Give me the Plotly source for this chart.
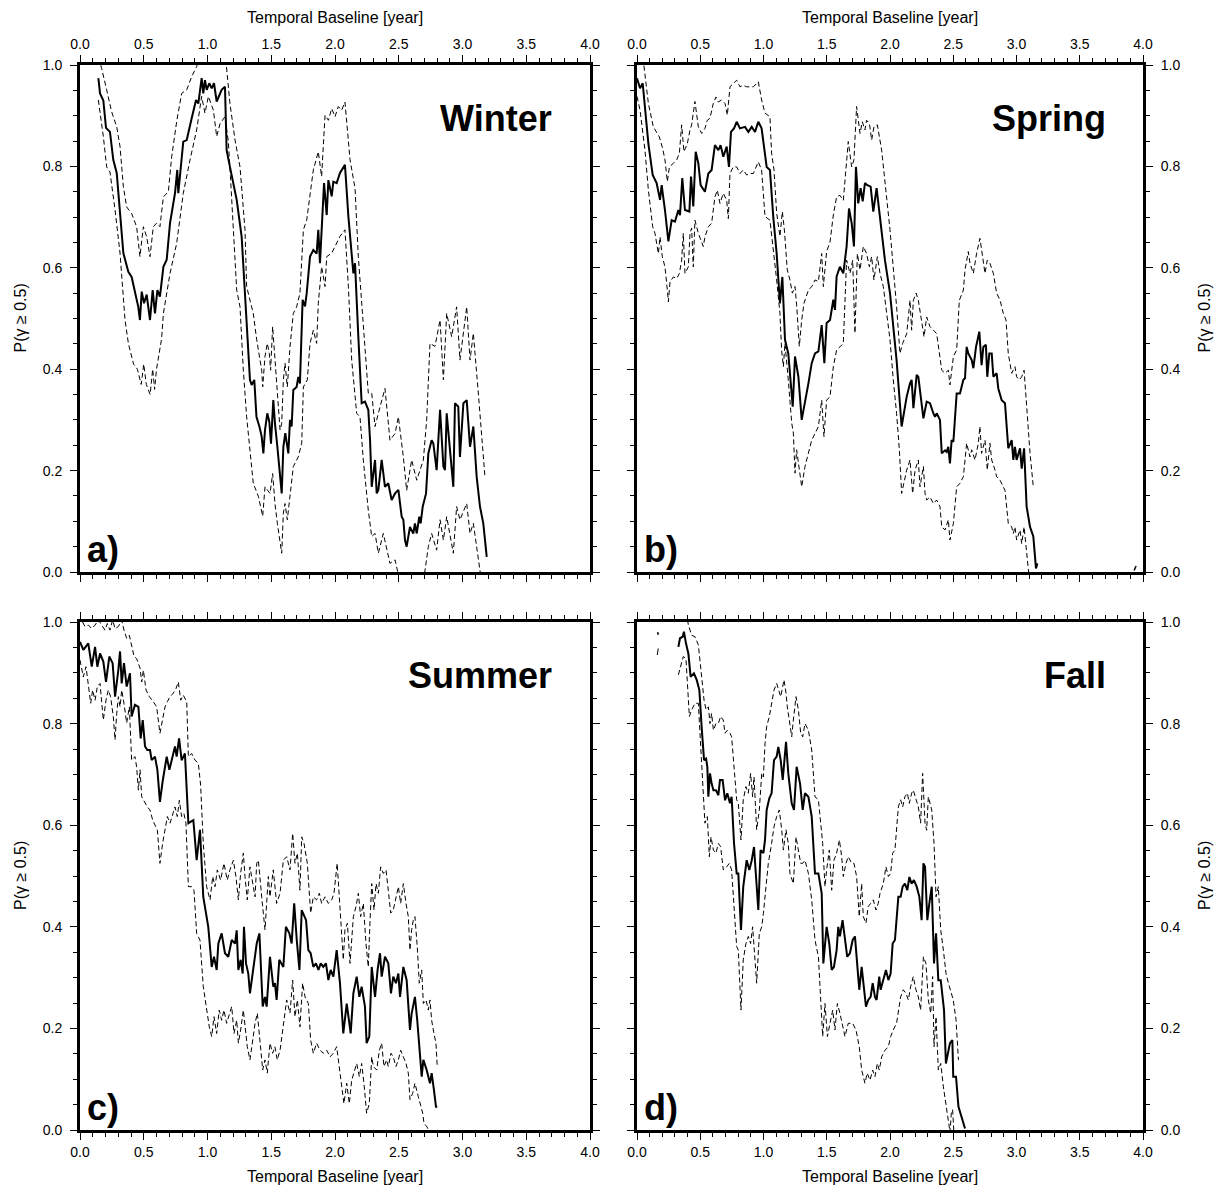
import plotly.graph_objects as go

# ---------------- DATA ----------------
# each series is a list of (temporal baseline [year], P(gamma >= 0.5)) points

winter_mean = [(.144,.974),(.157,.944),(.183,.93),(.204,.876),(.235,.868),(.261,.813),(.288,.787),(.34,.629),
    (.379,.592),(.405,.582),(.457,.523),(.47,.497),(.484,.553),(.502,.530),(.523,.547),(.549,.497),(.570,.556),
    (.588,.510),(.607,.556),(.627,.543),(.654,.602),(.680,.616),(.706,.688),(.745,.747),(.763,.793),(.771,.747),
    (.81,.849),(.837,.852),(.876,.895),(.910,.931),(.928,.924),(.954,.974),(.967,.944),(.98,.970),(.994,.951),
    (1.014,.964),(1.033,.954),(1.051,.964),(1.072,.928),(1.111,.951),(1.137,.957),(1.15,.832),(1.176,.799),
    (1.229,.734),(1.268,.661),(1.287,.576),(1.307,.491),(1.333,.379),(1.346,.369),(1.367,.379),(1.384,.306),
    (1.407,.287),(1.425,.267),(1.438,.234),(1.451,.280),(1.469,.313),(1.485,.296),(1.498,.253),(1.516,.339),
    (1.529,.293),(1.548,.247),(1.569,.194),(1.582,.155),(1.595,.247),(1.610,.274),(1.634,.234),(1.647,.300),
    (1.660,.287),(1.673,.359),(1.699,.365),(1.712,.385),(1.725,.372),(1.746,.537),(1.765,.524),(1.778,.550),
    (1.804,.622),(1.830,.635),(1.856,.628),(1.869,.675),(1.882,.609),(1.914,.767),(1.935,.704),(1.948,.773),
    (1.974,.741),(1.987,.770),(2.013,.767),(2.039,.787),(2.078,.803),(2.105,.701),(2.144,.589),(2.157,.609),
    (2.183,.464),(2.209,.333),(2.235,.336),(2.261,.320),(2.275,.260),(2.288,.168),(2.314,.221),(2.327,.155),
    (2.340,.162),(2.366,.221),(2.392,.168),(2.418,.175),(2.444,.142),(2.471,.155),(2.497,.162),(2.523,.109),
    (2.536,.103),(2.549,.063),(2.562,.050),(2.588,.089),(2.614,.076),(2.627,.096),(2.641,.076),(2.661,.109),
    (2.672,.096),(2.688,.129),(2.714,.155),(2.732,.234),(2.758,.260),(2.771,.254),(2.797,.201),(2.824,.320),
    (2.850,.208),(2.863,.201),(2.876,.313),(2.902,.234),(2.928,.168),(2.941,.333),(2.967,.326),(2.980,.227),
    (3.007,.333),(3.033,.339),(3.059,.247),(3.085,.287),(3.111,.188),(3.137,.129),(3.163,.096),(3.190,.030)]

winter_upper = [(.13,1.03),(.17,.993),(.209,.951),(.248,.908),(.288,.878),(.314,.839),(.340,.760),(.366,.720),
    (.405,.707),(.444,.681),(.470,.622),(.497,.681),(.523,.661),(.549,.622),(.575,.681),(.601,.688),(.627,.681),
    (.654,.740),(.693,.750),(.719,.819),(.758,.888),(.797,.944),(.837,.951),(.876,.977),(.915,.997),(.95,1.03),
    (1.0,1.05),(1.1,1.05),(1.14,1.02),(1.176,.924),(1.216,.852),(1.255,.799),(1.294,.675),(1.307,.563),
    (1.359,.510),(1.386,.458),(1.425,.398),(1.433,.365),(1.451,.425),(1.469,.451),(1.485,.431),(1.495,.398),
    (1.511,.484),(1.529,.425),(1.548,.365),(1.569,.280),(1.582,.293),(1.595,.379),(1.608,.412),(1.626,.365),
    (1.647,.444),(1.673,.510),(1.699,.523),(1.725,.550),(1.752,.675),(1.778,.694),(1.83,.793),(1.869,.829),
    (1.895,.780),(1.922,.901),(1.948,.891),(1.974,.914),(2.0,.898),(2.026,.918),(2.052,.911),(2.078,.927),
    (2.118,.813),(2.157,.757),(2.183,.622),(2.222,.484),(2.261,.353),(2.288,.353),(2.314,.287),(2.34,.313),
    (2.392,.362),(2.431,.260),(2.471,.273),(2.497,.306),(2.536,.227),(2.562,.161),(2.601,.221),(2.641,.181),
    (2.693,.221),(2.719,.300),(2.745,.451),(2.784,.445),(2.824,.497),(2.85,.379),(2.876,.510),(2.915,.464),
    (2.954,.523),(2.98,.418),(3.033,.523),(3.059,.418),(3.085,.471),(3.124,.353),(3.176,.188)]

winter_lower = [(.144,.931),(.183,.859),(.209,.799),(.235,.789),(.275,.714),(.314,.629),(.353,.497),(.38,.45),
    (.42,.41),(.45,.40),(.48,.37),(.50,.41),(.52,.37),(.55,.35),(.57,.40),(.585,.36),(.60,.40),(.62,.43),
    (.64,.46),(.654,.510),(.706,.589),(.758,.648),(.81,.747),(.863,.813),(.915,.872),(.954,.938),(.98,.905),
    (1.007,.938),(1.046,.911),(1.072,.859),(1.098,.884),(1.137,.898),(1.163,.85),(1.18,.78),(1.203,.675),
    (1.229,.556),(1.255,.523),(1.281,.398),(1.307,.306),(1.333,.247),(1.359,.175),(1.399,.149),(1.433,.110),
    (1.451,.168),(1.469,.162),(1.49,.155),(1.511,.194),(1.529,.135),(1.548,.096),(1.569,.056),(1.582,.037),
    (1.595,.116),(1.608,.135),(1.626,.103),(1.647,.155),(1.673,.208),(1.712,.227),(1.739,.254),(1.752,.365),
    (1.783,.379),(1.804,.451),(1.83,.477),(1.856,.451),(1.869,.530),(1.895,.602),(1.922,.563),(1.935,.622),
    (1.974,.629),(2.0,.642),(2.039,.662),(2.078,.675),(2.105,.563),(2.131,.418),(2.17,.313),(2.196,.306),
    (2.222,.221),(2.261,.122),(2.288,.070),(2.314,.076),(2.34,.037),(2.379,.076),(2.405,.043),(2.431,.017),
    (2.471,.024),(2.51,-.02),(2.693,-.02),(2.732,.05),(2.758,.076),(2.797,.043),(2.824,.103),(2.85,.063),
    (2.876,.109),(2.928,.037),(2.954,.129),(2.98,.103),(3.033,.135),(3.059,.076),(3.085,.096),(3.124,.030),
    (3.15,-.02)]

spring_mean = [(.0,.974),(.024,.954),(.045,.964),(.063,.911),(.09,.845),(.124,.783),(.155,.767),(.182,.734),
    (.195,.763),(.221,.714),(.248,.652),(.274,.694),(.300,.691),(.327,.714),(.340,.704),(.358,.777),(.379,.714),
    (.414,.711),(.427,.780),(.445,.721),(.464,.829),(.485,.806),(.503,.763),(.537,.750),(.564,.786),(.59,.793),
    (.616,.842),(.643,.832),(.661,.842),(.682,.819),(.709,.839),(.727,.799),(.743,.868),(.767,.875),(.788,.888),
    (.814,.875),(.854,.878),(.880,.868),(.907,.878),(.933,.868),(.959,.888),(.985,.875),(1.025,.799),
    (1.051,.793),(1.077,.701),(1.104,.628),(1.130,.530),(1.149,.582),(1.170,.458),(1.196,.431),(1.231,.326),
    (1.249,.425),(1.276,.385),(1.302,.300),(1.328,.333),(1.355,.372),(1.381,.412),(1.407,.431),(1.434,.435),
    (1.460,.487),(1.481,.412),(1.499,.491),(1.526,.497),(1.552,.537),(1.565,.517),(1.578,.583),(1.604,.602),
    (1.631,.589),(1.657,.642),(1.676,.717),(1.697,.688),(1.715,.642),(1.731,.799),(1.749,.727),(1.768,.757),
    (1.784,.731),(1.802,.767),(1.821,.763),(1.847,.760),(1.868,.711),(1.894,.757),(1.921,.694),(1.960,.615),
    (2.0,.550),(2.052,.418),(2.092,.287),(2.132,.346),(2.158,.372),(2.171,.379),(2.185,.323),(2.211,.389),
    (2.224,.385),(2.250,.333),(2.264,.303),(2.290,.336),(2.316,.333),(2.343,.313),(2.356,.306),(2.369,.313),
    (2.395,.300),(2.409,.234),(2.435,.240),(2.448,.237),(2.461,.247),(2.474,.214),(2.487,.260),(2.501,.257),
    (2.527,.352),(2.553,.352),(2.580,.379),(2.593,.382),(2.606,.444),(2.619,.431),(2.646,.418),(2.659,.402),
    (2.680,.444),(2.706,.474),(2.724,.408),(2.738,.444),(2.758,.448),(2.769,.385),(2.785,.431),(2.804,.431),
    (2.817,.385),(2.843,.392),(2.856,.362),(2.883,.339),(2.909,.333),(2.935,.244),(2.962,.260),(2.975,.221),
    (2.988,.247),(3.001,.221),(3.028,.244),(3.041,.204),(3.060,.244),(3.080,.129),(3.107,.089),(3.133,.070),
    (3.154,.007),(3.165,.017)]

spring_upper = [(.04,1.03),(.063,.984),(.090,.924),(.129,.878),(.155,.868),(.177,.858),(.203,.835),(.221,.813),
    (.240,.770),(.256,.799),(.287,.806),(.314,.813),(.335,.826),(.353,.882),(.371,.829),(.398,.845),(.419,.872),
    (.432,.882),(.458,.928),(.485,.878),(.511,.865),(.537,.875),(.556,.891),(.577,.895),(.603,.924),(.624,.937),
    (.643,.927),(.669,.931),(.696,.924),(.714,.901),(.735,.957),(.761,.964),(.788,.970),(.814,.957),(.840,.960),
    (.867,.957),(.893,.957),(.920,.957),(.959,.967),(.985,.931),(1.012,.905),(1.051,.898),(1.064,.826),
    (1.083,.793),(1.104,.708),(1.130,.662),(1.149,.711),(1.165,.675),(1.188,.596),(1.209,.576),(1.228,.550),
    (1.249,.563),(1.262,.527),(1.283,.445),(1.302,.497),(1.320,.530),(1.355,.556),(1.381,.563),(1.407,.576),
    (1.434,.573),(1.460,.628),(1.473,.563),(1.499,.632),(1.526,.651),(1.552,.704),(1.578,.740),(1.604,.743),
    (1.631,.733),(1.670,.849),(1.697,.799),(1.715,.813),(1.736,.918),(1.763,.865),(1.781,.888),(1.802,.872),
    (1.815,.891),(1.837,.885),(1.855,.852),(1.873,.878),(1.900,.882),(1.934,.832),(1.968,.747),(2.0,.675),
    (2.052,.524),(2.079,.431),(2.100,.451),(2.132,.470),(2.158,.536),(2.171,.477),(2.185,.536),(2.206,.550),
    (2.224,.536),(2.250,.497),(2.269,.464),(2.290,.503),(2.316,.484),(2.343,.477),(2.369,.470),(2.409,.398),
    (2.435,.392),(2.461,.398),(2.474,.369),(2.501,.425),(2.527,.438),(2.548,.536),(2.580,.556),(2.593,.596),
    (2.619,.632),(2.632,.609),(2.659,.589),(2.685,.629),(2.711,.658),(2.732,.622),(2.751,.589),(2.769,.615),
    (2.790,.609),(2.817,.589),(2.843,.550),(2.870,.536),(2.896,.510),(2.917,.497),(2.935,.431),(2.948,.412),
    (2.962,.392),(2.988,.405),(3.001,.385),(3.022,.379),(3.041,.385),(3.060,.398),(3.080,.320),(3.107,.234),
    (3.133,.168)]

spring_lower = [(.0,.938),(.024,.911),(.063,.832),(.090,.753),(.124,.681),(.142,.668),(.169,.628),(.182,.661),
    (.200,.622),(.221,.602),(.240,.556),(.248,.533),(.261,.572),(.287,.582),(.314,.579),(.335,.589),(.353,.615),
    (.366,.668),(.379,.589),(.406,.602),(.419,.668),(.432,.678),(.445,.602),(.458,.694),(.485,.668),(.524,.642),
    (.537,.661),(.564,.681),(.590,.688),(.616,.740),(.635,.753),(.656,.727),(.682,.747),(.709,.733),(.722,.697),
    (.735,.786),(.761,.799),(.788,.799),(.814,.786),(.840,.793),(.867,.783),(.893,.786),(.920,.786),(.959,.809),
    (.985,.793),(1.012,.701),(1.051,.694),(1.077,.642),(1.104,.576),(1.130,.510),(1.143,.438),(1.157,.405),
    (1.170,.451),(1.196,.379),(1.223,.294),(1.236,.274),(1.249,.195),(1.262,.241),(1.289,.188),(1.302,.168),
    (1.328,.208),(1.355,.234),(1.381,.260),(1.407,.273),(1.434,.287),(1.460,.339),(1.478,.267),(1.499,.339),
    (1.526,.346),(1.552,.405),(1.578,.438),(1.604,.444),(1.631,.451),(1.657,.615),(1.684,.589),(1.705,.615),
    (1.723,.471),(1.742,.628),(1.763,.596),(1.789,.642),(1.815,.628),(1.837,.602),(1.855,.622),(1.873,.576),
    (1.900,.622),(1.921,.589),(1.947,.563),(1.974,.510),(2.0,.458),(2.026,.379),(2.052,.313),(2.074,.241),
    (2.092,.155),(2.132,.201),(2.158,.221),(2.179,.155),(2.198,.201),(2.224,.221),(2.237,.168),(2.264,.208),
    (2.277,.155),(2.290,.142),(2.316,.148),(2.343,.135),(2.369,.142),(2.395,.129),(2.409,.089),(2.435,.083),
    (2.461,.103),(2.474,.063),(2.501,.096),(2.527,.168),(2.553,.175),(2.580,.188),(2.606,.254),(2.632,.227),
    (2.646,.241),(2.672,.221),(2.698,.254),(2.711,.287),(2.724,.234),(2.751,.260),(2.769,.201),(2.790,.254),
    (2.804,.221),(2.830,.201),(2.843,.188),(2.870,.181),(2.909,.161),(2.935,.096),(2.962,.089),(2.975,.076),
    (2.988,.089),(3.001,.063),(3.028,.083),(3.041,.056),(3.060,.089),(3.094,.004),(3.107,-.016)]

spring_fragment = [(3.93,.003),(3.945,.012)]

summer_mean = [(.0,.961),(.026,.945),(.065,.958),(.092,.912),(.118,.951),(.136,.912),(.157,.938),(.183,.922),
    (.204,.882),(.230,.932),(.256,.919),(.275,.853),(.301,.906),(.314,.942),(.327,.879),(.345,.919),(.366,.873),
    (.392,.899),(.405,.814),(.431,.837),(.458,.833),(.476,.771),(.492,.807),(.510,.755),(.528,.748),(.549,.748),
    (.562,.728),(.588,.735),(.607,.709),(.627,.646),(.648,.686),(.680,.735),(.701,.709),(.719,.728),(.745,.755),
    (.758,.735),(.777,.771),(.797,.728),(.823,.741),(.850,.604),(.889,.610),(.915,.531),(.941,.591),(.967,.459),
    (1.006,.400),(1.033,.321),(1.051,.341),(1.072,.315),(1.085,.367),(1.111,.387),(1.137,.348),(1.163,.341),
    (1.190,.374),(1.216,.367),(1.229,.393),(1.242,.315),(1.260,.335),(1.276,.308),(1.286,.400),(1.302,.328),
    (1.320,.308),(1.333,.269),(1.359,.321),(1.386,.367),(1.407,.387),(1.433,.243),(1.451,.262),(1.464,.243),
    (1.490,.341),(1.516,.282),(1.529,.289),(1.542,.256),(1.563,.335),(1.582,.328),(1.595,.321),(1.615,.400),
    (1.642,.387),(1.660,.367),(1.680,.446),(1.700,.374),(1.721,.315),(1.739,.433),(1.773,.413),(1.791,.354),
    (1.809,.348),(1.830,.321),(1.851,.328),(1.870,.315),(1.888,.328),(1.908,.321),(1.929,.328),(1.948,.295),
    (1.966,.315),(1.987,.302),(2.013,.354),(2.039,.289),(2.065,.190),(2.092,.249),(2.123,.190),(2.144,.269),
    (2.170,.302),(2.191,.262),(2.209,.282),(2.235,.243),(2.248,.171),(2.269,.184),(2.288,.321),(2.314,.262),
    (2.334,.315),(2.353,.348),(2.366,.302),(2.392,.341),(2.418,.328),(2.439,.269),(2.457,.302),(2.478,.289),
    (2.497,.308),(2.510,.262),(2.536,.321),(2.562,.295),(2.588,.197),(2.601,.229),(2.627,.262),(2.645,.216),
    (2.661,.157),(2.680,.105),(2.693,.138),(2.719,.118),(2.745,.092),(2.758,.112),(2.776,.079),(2.792,.046),
    (2.802,.046)]

summer_upper = [(.02,1.0),(.039,.991),(.065,.994),(.092,.987),(.118,.994),(.144,1.004),(.170,.994),(.196,.984),
    (.214,.997),(.235,.984),(.256,1.004),(.275,.987),(.301,.991),(.327,1.004),(.345,.984),(.366,.968),(.387,.974),
    (.405,.955),(.424,.932),(.444,.928),(.471,.909),(.484,.882),(.497,.905),(.518,.866),(.544,.853),(.575,.843),
    (.601,.833),(.627,.781),(.641,.800),(.667,.833),(.685,.843),(.706,.853),(.732,.860),(.753,.869),(.771,.882),
    (.790,.846),(.810,.856),(.837,.843),(.850,.735),(.876,.741),(.902,.728),(.928,.722),(.946,.679),(.967,.564),
    (.993,.479),(1.020,.453),(1.041,.499),(1.059,.479),(1.077,.512),(1.103,.492),(1.129,.525),(1.155,.492),
    (1.176,.512),(1.203,.531),(1.223,.499),(1.242,.453),(1.260,.505),(1.281,.545),(1.294,.499),(1.312,.453),
    (1.333,.518),(1.354,.486),(1.373,.459),(1.386,.525),(1.399,.531),(1.425,.459),(1.451,.394),(1.477,.499),
    (1.490,.459),(1.516,.512),(1.542,.446),(1.569,.466),(1.595,.531),(1.621,.538),(1.647,.512),(1.668,.584),
    (1.686,.525),(1.705,.545),(1.725,.472),(1.739,.577),(1.757,.564),(1.783,.525),(1.809,.427),(1.830,.459),
    (1.856,.453),(1.877,.466),(1.895,.446),(1.922,.459),(1.948,.446),(1.974,.453),(1.992,.466),(2.017,.525),
    (2.039,.433),(2.065,.335),(2.078,.394),(2.097,.407),(2.118,.328),(2.144,.420),(2.165,.440),(2.183,.466),
    (2.201,.420),(2.222,.446),(2.243,.367),(2.261,.321),(2.275,.413),(2.288,.485),(2.306,.433),(2.322,.485),
    (2.340,.466),(2.358,.518),(2.379,.505),(2.400,.512),(2.418,.472),(2.437,.427),(2.457,.433),(2.478,.459),
    (2.497,.479),(2.515,.446),(2.536,.485),(2.557,.446),(2.575,.420),(2.588,.354),(2.601,.394),(2.614,.413),
    (2.627,.420),(2.645,.361),(2.661,.289),(2.680,.315),(2.693,.249),(2.714,.256),(2.732,.236),(2.745,.256),
    (2.758,.216),(2.776,.190),(2.792,.171),(2.802,.125)]

summer_lower = [(.0,.925),(.026,.892),(.047,.912),(.065,.873),(.084,.840),(.099,.866),(.118,.846),(.136,.873),
    (.157,.879),(.183,.807),(.204,.846),(.222,.866),(.240,.853),(.261,.814),(.275,.768),(.288,.820),(.301,.853),
    (.314,.833),(.327,.866),(.345,.840),(.366,.801),(.387,.833),(.405,.728),(.431,.735),(.444,.715),(.458,.669),
    (.471,.709),(.484,.656),(.510,.643),(.528,.636),(.549,.630),(.570,.610),(.607,.590),(.627,.525),(.648,.564),
    (.667,.590),(.685,.617),(.706,.604),(.727,.623),(.745,.636),(.763,.617),(.779,.649),(.797,.617),(.815,.623),
    (.831,.604),(.850,.479),(.876,.479),(.894,.472),(.915,.387),(.941,.374),(.967,.282),(.988,.249),(1.014,.203),
    (1.033,.184),(1.051,.223),(1.072,.190),(1.092,.236),(1.111,.216),(1.129,.236),(1.150,.210),(1.171,.230),
    (1.190,.243),(1.208,.190),(1.229,.216),(1.242,.171),(1.260,.197),(1.281,.236),(1.294,.203),(1.312,.164),
    (1.333,.138),(1.354,.177),(1.373,.210),(1.391,.230),(1.407,.184),(1.433,.118),(1.451,.138),(1.469,.112),
    (1.490,.171),(1.511,.151),(1.529,.164),(1.547,.138),(1.569,.157),(1.595,.210),(1.621,.256),(1.647,.230),
    (1.668,.295),(1.686,.223),(1.705,.256),(1.725,.203),(1.746,.289),(1.765,.262),(1.791,.249),(1.809,.177),
    (1.830,.151),(1.856,.171),(1.882,.157),(1.908,.151),(1.935,.157),(1.961,.144),(1.987,.151),(2.013,.164),
    (2.039,.112),(2.070,.052),(2.092,.092),(2.112,.052),(2.131,.098),(2.149,.112),(2.170,.131),(2.191,.105),
    (2.209,.131),(2.227,.092),(2.248,.033),(2.269,.052),(2.288,.144),(2.301,.125),(2.327,.118),(2.348,.157),
    (2.366,.171),(2.384,.125),(2.405,.138),(2.418,.125),(2.439,.151),(2.457,.144),(2.478,.125),(2.497,.138),
    (2.515,.157),(2.536,.144),(2.557,.131),(2.575,.112),(2.588,.060),(2.609,.072),(2.627,.092),(2.653,.066),
    (2.672,.046),(2.688,.033),(2.698,.013),(2.719,.007),(2.740,-.003),(2.758,-.013)]

fall_mean = [(.327,.951),(.340,.968),(.361,.971),(.371,.981),(.387,.958),(.406,.938),(.424,.892),(.450,.899),
    (.472,.886),(.493,.866),(.511,.793),(.530,.728),(.546,.731),(.556,.715),(.564,.656),(.577,.702),(.590,.682),
    (.604,.669),(.624,.669),(.643,.659),(.656,.689),(.677,.689),(.696,.649),(.714,.663),(.735,.643),(.748,.656),
    (.767,.564),(.788,.505),(.801,.505),(.822,.394),(.840,.479),(.867,.531),(.888,.512),(.907,.531),(.925,.557),
    (.941,.492),(.959,.433),(.977,.551),(.999,.545),(1.012,.571),(1.025,.630),(1.046,.653),(1.064,.663),
    (1.083,.728),(1.104,.735),(1.117,.754),(1.136,.728),(1.152,.689),(1.165,.728),(1.178,.764),(1.196,.702),
    (1.223,.643),(1.241,.630),(1.262,.715),(1.289,.682),(1.310,.630),(1.328,.663),(1.355,.656),(1.381,.617),
    (1.407,.505),(1.434,.505),(1.460,.466),(1.473,.328),(1.499,.400),(1.520,.367),(1.539,.315),(1.557,.321),
    (1.578,.354),(1.591,.400),(1.604,.381),(1.625,.413),(1.644,.374),(1.662,.341),(1.683,.348),(1.705,.374),
    (1.723,.381),(1.736,.341),(1.757,.276),(1.776,.321),(1.789,.289),(1.810,.243),(1.828,.256),(1.847,.262),
    (1.863,.289),(1.881,.262),(1.894,.256),(1.915,.302),(1.926,.276),(1.947,.295),(1.968,.315),(1.987,.295),
    (2.005,.308),(2.021,.367),(2.039,.374),(2.066,.459),(2.084,.459),(2.100,.479),(2.118,.485),(2.137,.472),
    (2.153,.498),(2.171,.485),(2.189,.492),(2.211,.479),(2.232,.459),(2.250,.413),(2.264,.525),(2.277,.518),
    (2.295,.413),(2.311,.446),(2.330,.479),(2.348,.328),(2.364,.387),(2.382,.295),(2.401,.295),(2.427,.236),
    (2.442,.131),(2.474,.171),(2.493,.177),(2.500,.105),(2.522,.105),(2.541,.046),(2.567,.026),(2.593,.003)]

fall_upper = [(.39,1.02),(.406,.994),(.432,.974),(.458,.971),(.485,.955),(.511,.892),(.530,.846),(.546,.827),
    (.564,.833),(.577,.800),(.590,.820),(.604,.787),(.624,.800),(.643,.800),(.661,.814),(.682,.807),(.696,.781),
    (.714,.787),(.735,.781),(.748,.774),(.767,.709),(.788,.650),(.801,.643),(.822,.571),(.840,.650),(.861,.676),
    (.880,.663),(.898,.702),(.914,.656),(.925,.695),(.946,.591),(.967,.630),(.986,.702),(.999,.695),(1.012,.761),
    (1.025,.794),(1.046,.814),(1.064,.840),(1.083,.866),(1.104,.879),(1.117,.866),(1.136,.853),(1.152,.873),
    (1.162,.886),(1.178,.860),(1.188,.833),(1.204,.807),(1.223,.774),(1.236,.807),(1.257,.853),(1.276,.827),
    (1.294,.781),(1.310,.774),(1.328,.800),(1.355,.787),(1.381,.748),(1.407,.656),(1.434,.650),(1.468,.564),
    (1.486,.479),(1.499,.512),(1.520,.551),(1.539,.472),(1.557,.531),(1.578,.545),(1.600,.571),(1.618,.538),
    (1.631,.499),(1.652,.525),(1.670,.538),(1.697,.525),(1.715,.525),(1.736,.499),(1.757,.420),(1.776,.485),
    (1.789,.420),(1.810,.407),(1.828,.440),(1.847,.446),(1.868,.453),(1.889,.433),(1.907,.446),(1.921,.466),
    (1.947,.485),(1.968,.518),(1.987,.499),(2.005,.505),(2.021,.545),(2.039,.551),(2.066,.636),(2.084,.650),
    (2.100,.636),(2.118,.656),(2.137,.663),(2.153,.643),(2.171,.663),(2.184,.669),(2.205,.650),(2.224,.636),
    (2.242,.604),(2.258,.702),(2.277,.604),(2.290,.590),(2.303,.656),(2.330,.630),(2.348,.564),(2.364,.459),
    (2.382,.479),(2.401,.394),(2.422,.354),(2.443,.308),(2.462,.289),(2.500,.256),(2.522,.217),(2.541,.138)]

fall_lower = [(.327,.896),(.366,.932),(.387,.928),(.414,.814),(.432,.827),(.458,.840),(.485,.840),(.511,.728),
    (.537,.604),(.556,.617),(.572,.538),(.585,.577),(.604,.551),(.624,.545),(.643,.564),(.661,.558),(.682,.512),
    (.709,.518),(.730,.525),(.748,.512),(.767,.433),(.788,.361),(.801,.354),(.822,.236),(.840,.335),(.861,.367),
    (.880,.381),(.898,.367),(.914,.400),(.933,.335),(.946,.289),(.967,.387),(.986,.400),(.999,.426),(1.020,.485),
    (1.038,.525),(1.064,.564),(1.083,.597),(1.104,.617),(1.125,.630),(1.144,.591),(1.157,.551),(1.178,.591),
    (1.196,.564),(1.209,.505),(1.236,.485),(1.257,.577),(1.276,.551),(1.294,.525),(1.310,.525),(1.328,.531),
    (1.355,.505),(1.381,.453),(1.407,.374),(1.434,.341),(1.468,.184),(1.486,.249),(1.505,.184),(1.526,.210),
    (1.547,.236),(1.565,.197),(1.584,.249),(1.604,.230),(1.626,.203),(1.644,.184),(1.670,.210),(1.705,.210),
    (1.731,.197),(1.757,.164),(1.776,.118),(1.802,.092),(1.820,.112),(1.842,.098),(1.863,.118),(1.881,.105),
    (1.900,.131),(1.915,.118),(1.934,.144),(1.960,.157),(1.987,.164),(2.005,.184),(2.026,.197),(2.052,.210),
    (2.084,.262),(2.105,.276),(2.126,.269),(2.145,.256),(2.163,.282),(2.184,.302),(2.205,.276),(2.224,.262),
    (2.242,.236),(2.264,.341),(2.284,.328),(2.303,.256),(2.322,.230),(2.337,.302),(2.348,.164),(2.364,.223),
    (2.382,.118),(2.401,.131),(2.422,.085),(2.443,.052),(2.462,.013),(2.475,-.005),(2.485,.035),(2.495,.04),
    (2.505,-.005)]

fall_fragment_solid = [(.163,.98),(.168,.975)]
fall_fragment_dash = [(.160,.935),(.168,.948)]

season_names = ["Winter", "Spring", "Summer", "Fall"]
panel_letters = ["a)", "b)", "c)", "d)"]
x_tick_values = [0, 0.5, 1.0, 1.5, 2.0, 2.5, 3.0, 3.5, 4.0]
y_tick_values = [0, 0.2, 0.4, 0.6, 0.8, 1.0]
x_title = "Temporal Baseline [year]"
y_title = "P(γ ≥ 0.5)"

# ---------------- FIGURE ----------------
# the page adds an 8 px body margin, so the figure is drawn 8 px smaller and all
# target screen positions are shifted by that offset
OFF = 8
W, H = 1224 - OFF, 1194 - OFF
FONT = "Liberation Sans, Arial, Helvetica, sans-serif"

def px_x(p):
    return (p - OFF) / W

def px_y(p):
    return 1 - (p - OFF) / H

# panel frames in screen pixels: (left, right, top, bottom)
frames = [(80, 590, 65, 572), (637, 1143, 65, 572), (80, 590, 622, 1130), (637, 1143, 622, 1130)]

def xs(pts):
    return [p[0] for p in pts]

def ys(pts):
    return [p[1] for p in pts]

panels = [
    dict(mean=winter_mean, upper=winter_upper, lower=winter_lower, solid_extra=[], dash_extra=[]),
    dict(mean=spring_mean, upper=spring_upper, lower=spring_lower, solid_extra=[spring_fragment], dash_extra=[]),
    dict(mean=summer_mean, upper=summer_upper, lower=summer_lower, solid_extra=[], dash_extra=[]),
    dict(mean=fall_mean, upper=fall_upper, lower=fall_lower, solid_extra=[fall_fragment_solid], dash_extra=[fall_fragment_dash]),
]

fig = go.Figure()
DASH = "5px,3px"

for i, p in enumerate(panels):
    xa = "x" if i == 0 else f"x{i+1}"
    ya = "y" if i == 0 else f"y{i+1}"
    for band in (p["upper"], p["lower"]):
        fig.add_trace(go.Scatter(x=xs(band), y=ys(band), mode="lines", xaxis=xa, yaxis=ya,
                                 line=dict(color="black", width=1, dash=DASH), showlegend=False, hoverinfo="skip"))
    for frag in p["dash_extra"]:
        fig.add_trace(go.Scatter(x=xs(frag), y=ys(frag), mode="lines", xaxis=xa, yaxis=ya,
                                 line=dict(color="black", width=1), showlegend=False, hoverinfo="skip"))
    fig.add_trace(go.Scatter(x=xs(p["mean"]), y=ys(p["mean"]), mode="lines", xaxis=xa, yaxis=ya,
                             line=dict(color="black", width=2), showlegend=False))
    for frag in p["solid_extra"]:
        fig.add_trace(go.Scatter(x=xs(frag), y=ys(frag), mode="lines", xaxis=xa, yaxis=ya,
                                 line=dict(color="black", width=1.5), showlegend=False, hoverinfo="skip"))

def axis_common():
    return dict(ticks="outside", ticklen=7, tickwidth=1, tickcolor="black",
                showline=True, linewidth=3, linecolor="black", mirror="ticks",
                showgrid=False, zeroline=False, tickformat=".1f", automargin=False,
                tickfont=dict(family=FONT, size=14, color="black"))

layout = dict(width=W, height=H, margin=dict(l=0, r=0, t=0, b=0, pad=0, autoexpand=False),
              paper_bgcolor="white", plot_bgcolor="white", showlegend=False,
              font=dict(family=FONT, color="black"))

annotations = []
for i, (l, r, t, b) in enumerate(frames):
    sfx = "" if i == 0 else str(i + 1)
    xd = [px_x(l), px_x(r)]
    yd = [px_y(b), px_y(t)]
    top = i < 2
    left = i % 2 == 0
    xax = axis_common()
    xax.update(domain=xd, range=[0, 4], tickvals=x_tick_values, anchor="y" + sfx,
               side="top" if top else "bottom",
               minor=dict(dtick=0.1, tick0=0, ticks="outside", ticklen=4, tickwidth=1, tickcolor="black", showgrid=False))
    yax = axis_common()
    yax.update(domain=yd, range=[0, 1], tickvals=y_tick_values, anchor="x" + sfx,
               side="left" if left else "right", ticklabelstandoff=5,
               minor=dict(dtick=0.05, tick0=0, ticks="outside", ticklen=4, tickwidth=1, tickcolor="black", showgrid=False))
    layout["xaxis" + sfx] = xax
    layout["yaxis" + sfx] = yax

    # axis titles
    annotations.append(dict(text=x_title, xref="paper", yref="paper", x=px_x((l + r) / 2),
                            y=px_y(18 if top else 1176), xanchor="center", yanchor="middle",
                            showarrow=False, font=dict(family=FONT, size=16, color="black")))
    annotations.append(dict(text=y_title, xref="paper", yref="paper", x=px_x(20 if left else 1204),
                            y=px_y((t + b) / 2), xanchor="center", yanchor="middle", textangle=-90,
                            showarrow=False, font=dict(family=FONT, size=16, color="black")))
    # season label
    annotations.append(dict(text="<b>%s</b>" % season_names[i], xref="x%s domain" % sfx, yref="y%s domain" % sfx,
                            x=0.93, y=0.895, xanchor="right", yanchor="middle", showarrow=False,
                            font=dict(family=FONT, size=36, color="black")))
    # panel letter
    annotations.append(dict(text="<b>%s</b>" % panel_letters[i], xref="x%s domain" % sfx, yref="y%s domain" % sfx,
                            x=0.01, y=0.0, xanchor="left", yanchor="bottom", showarrow=False,
                            font=dict(family=FONT, size=36, color="black")))

layout["annotations"] = annotations
fig.update_layout(**layout)
fig.write_html("out.html")
